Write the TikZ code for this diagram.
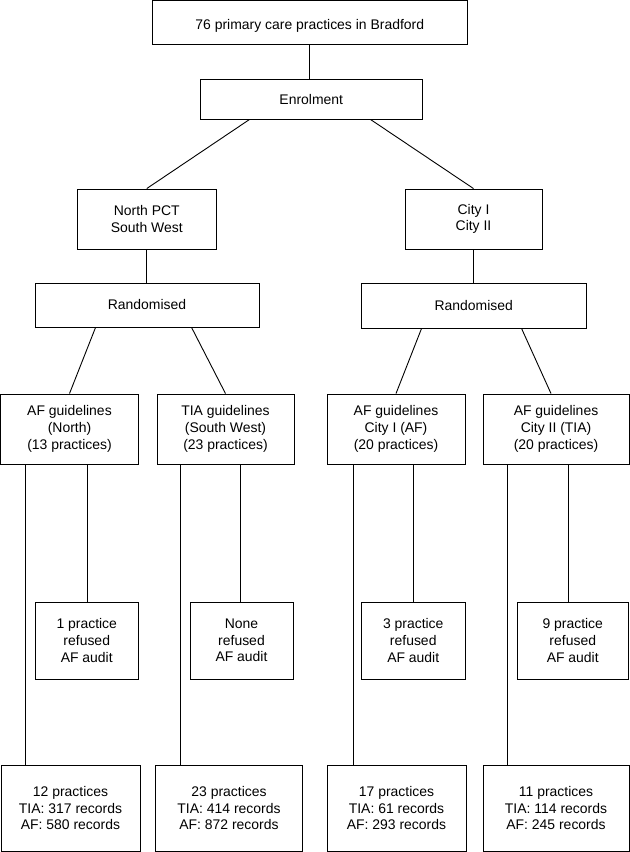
\documentclass[tikz,border=0pt]{standalone}
\usepackage{fontspec}
\setmainfont{Liberation Sans}
\begin{document}
\begin{tikzpicture}[x=1bp,y=-1bp,
  box/.style={draw, line width=0.9bp, align=center, inner sep=0pt, font=\fontsize{14}{16.7}\selectfont},
  conn/.style={line width=0.9bp}]
\useasboundingbox (0,0) rectangle (630,852);
% level 0-2
\node[box, minimum width=314.5bp, minimum height=43.5bp, text height=17.8bp, text depth=3bp] (top) at (309.75,22.5) {76 primary care practices in Bradford};
\node[box, minimum width=222.5bp, minimum height=40bp, text height=14bp, text depth=3bp] (enrol) at (311.25,99) {Enrolment};
\node[box, minimum width=138.5bp, minimum height=60bp] (north) at (146.75,219) {North PCT\\South West};
\node[box, minimum width=137bp, minimum height=60bp] (city) at (473.5,219) {City I\\City II};
\node[box, minimum width=224bp, minimum height=44bp] (randL) at (147,305) {Randomised};
\node[box, minimum width=224.5bp, minimum height=45bp] (randR) at (473.75,305.5) {Randomised};
% level 3
\node[box, minimum width=138bp, minimum height=70bp, yshift=0bp] (A3) at (69.5,429) {AF guidelines\\(North)\\(13 practices)};
\node[box, minimum width=137bp, minimum height=70bp] (B3) at (225.5,429) {TIA guidelines\\(South West)\\(23 practices)};
\node[box, minimum width=138bp, minimum height=70bp] (C3) at (396,429) {AF guidelines\\City I (AF)\\(20 practices)};
\node[box, minimum width=146bp, minimum height=70bp] (D3) at (556,429) {AF guidelines\\City II (TIA)\\(20 practices)};
% refused boxes
\node[box, minimum width=103.5bp, minimum height=77bp] (mA) at (86.75,640.5) {1 practice\\refused\\AF audit};
\node[box, minimum width=103bp, minimum height=77bp] (mB) at (241.5,640.5) {None\\refused\\AF audit};
\node[box, minimum width=103.5bp, minimum height=77bp] (mC) at (413.25,640.5) {3 practice\\refused\\AF audit};
\node[box, minimum width=111.5bp, minimum height=77bp] (mD) at (572.75,640.5) {9 practice\\refused\\AF audit};
% bottom boxes
\node[box, minimum width=139bp, minimum height=86.5bp] (bA) at (70.5,808.25) {12 practices\\TIA: 317 records\\AF: 580 records};
\node[box, minimum width=147bp, minimum height=86.5bp] (bB) at (229,808.25) {23 practices\\TIA: 414 records\\AF: 872 records};
\node[box, minimum width=139bp, minimum height=86.5bp] (bC) at (396.5,808.25) {17 practices\\TIA: 61 records\\AF: 293 records};
\node[box, minimum width=146bp, minimum height=86.5bp] (bD) at (556,808.25) {11 practices\\TIA: 114 records\\AF: 245 records};
% connectors
\draw[conn] (top.south) -- (top.south |- enrol.north);
\draw[conn] ([xshift=50bp]enrol.south west) -- (north.north);
\draw[conn] ([xshift=-52.5bp]enrol.south east) -- (city.north);
\draw[conn] (north.south) -- (north.south |- randL.north);
\draw[conn] (city.south) -- (city.south |- randR.north);
\draw[conn] ([xshift=61bp]randL.south west) -- (A3.north);
\draw[conn] ([xshift=157bp]randL.south west) -- (B3.north);
\draw[conn] ([xshift=60.5bp]randR.south west) -- (C3.north);
\draw[conn] ([xshift=160.5bp]randR.south west) -- ([xshift=-5bp]D3.north);
\coordinate (vA) at ([xshift=25.5bp]A3.south west);
\coordinate (vB) at ([xshift=24bp]B3.south west);
\coordinate (vC) at ([xshift=26.5bp]C3.south west);
\coordinate (vD) at ([xshift=25bp]D3.south west);
\draw[conn] (vA) -- (vA |- bA.north);
\draw[conn] (vB) -- (vB |- bB.north);
\draw[conn] (vC) -- (vC |- bC.north);
\draw[conn] (vD) -- (vD |- bD.north);
\coordinate (wA) at ([xshift=87bp]A3.south west);
\coordinate (wB) at ([xshift=84bp]B3.south west);
\coordinate (wC) at ([xshift=87bp]C3.south west);
\coordinate (wD) at ([xshift=86bp]D3.south west);
\draw[conn] (wA) -- (wA |- mA.north);
\draw[conn] (wB) -- (wB |- mB.north);
\draw[conn] (wC) -- (wC |- mC.north);
\draw[conn] (wD) -- (wD |- mD.north);
\end{tikzpicture}
\end{document}
